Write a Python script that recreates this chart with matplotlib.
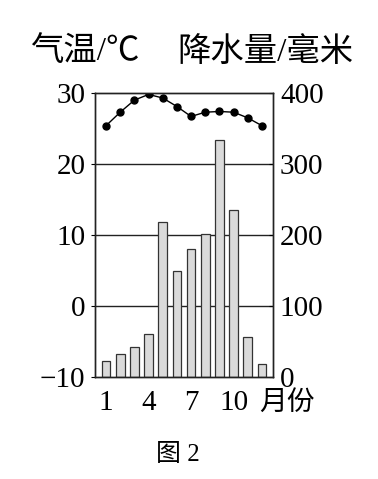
import matplotlib.pyplot as plt

plt.rcParams['font.family'] = ['Liberation Serif', 'Noto Sans CJK SC']
plt.rcParams['axes.unicode_minus'] = True

months = list(range(1, 13))
temp = [25.4, 27.3, 29.0, 29.8, 29.3, 28.1, 26.7, 27.3, 27.4, 27.3, 26.5, 25.4]
precip = [22, 33, 42, 61, 218, 150, 181, 202, 334, 235, 57, 18]
temp_ticks = [-10, 0, 10, 20, 30]
precip_ticks = [0, 100, 200, 300, 400]
month_ticks = [1, 4, 7, 10]

fig = plt.figure(figsize=(3.78, 4.79), dpi=100)
ax2 = fig.add_axes([0.2513, 0.2129, 0.4709, 0.5929])
ax = ax2.twinx()

# precipitation bars on the back axis
ax2.set_zorder(1)
ax.set_zorder(2)
ax.patch.set_visible(False)

for g in [100, 200, 300]:
    ax2.axhline(g, color='#222222', lw=1.0, zorder=1)
ax2.bar(months, precip, width=0.62, color='#dadada', edgecolor='#333333',
        linewidth=0.9, zorder=2)
ax2.set_ylim(0, 400)
ax2.set_xlim(0.22, 12.78)
ax2.yaxis.tick_right()
ax2.set_yticks(precip_ticks)
ax2.tick_params(axis='y', direction='in', length=3, labelsize=21, pad=5)

ax.plot(months, temp, color='black', lw=1.0, marker='o', markersize=5)
ax.set_ylim(-10, 30)
ax.yaxis.tick_left()
ax.set_yticks(temp_ticks)
ax.set_yticklabels(['\u221210', '0', '10', '20', '30'])
ax.tick_params(axis='y', direction='out', length=3, labelsize=21, pad=4)

ax2.set_xticks(month_ticks)
ax2.set_xticklabels(['1', '4', '7', '10'])
ax2.tick_params(axis='x', length=0, labelsize=21, pad=9)
for lbl in ax2.get_xticklabels()[-1:]:
    lbl.set_x(10.25)

for a in (ax, ax2):
    for s in a.spines.values():
        s.set_linewidth(1.0)
        s.set_color('#222222')

fig.text(30 / 378, 1 - 52 / 479, '气温/℃', fontsize=24, va='center', ha='left')
fig.text(177 / 378, 1 - 52 / 479, '降水量/毫米', fontsize=24, va='center', ha='left')
fig.text(259 / 378, 1 - 403 / 479, '月份', fontsize=20, va='center', ha='left')
fig.text(178 / 378, 1 - 455 / 479, '图 2', fontsize=18, va='center', ha='center')

fig.savefig('out.png', dpi=100)
